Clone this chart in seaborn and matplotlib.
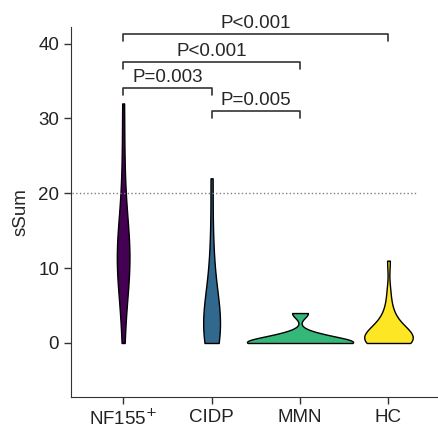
import pandas as pd
import seaborn as sns
import matplotlib.pyplot as plt

groups = ["NF155$^{+}$", "CIDP", "MMN", "HC"]
colors = ["#440154", "#31688e", "#35b779", "#fde725"]

nf155 = [0, 6, 8, 10, 11, 11, 12, 12, 13, 15, 18, 24, 32]
cidp = [0, 0, 1, 1, 2, 3, 3, 4, 5, 7, 9, 14, 22]
mmn = [0, 0, 0, 0, 0, 0, 0, 0, 0, 0, 0, 0, 0, 0, 0, 0, 0, 0,
       1, 1, 1, 1, 1, 1, 4, 4, 4]
hc = [0, 0, 0, 0, 0, 0, 0, 0, 0, 1, 1, 1, 1, 1, 1, 1, 1,
      2, 2, 2, 3, 3, 4, 5, 7, 11]

# comparisons: (group a, group b, bracket height, label)
pairs = [(0, 1, 34.0, "P=0.003"), (1, 2, 31.0, "P=0.005"),
         (0, 2, 37.5, "P<0.001"), (0, 3, 41.3, "P<0.001")]

rows = []
for g, vals in zip(groups, [nf155, cidp, mmn, hc]):
    for v in vals:
        rows.append({"group": g, "sSum": v})
df = pd.DataFrame(rows)

sns.set_style("ticks")
plt.rcParams["font.family"] = ["Liberation Sans", "DejaVu Sans"]
plt.rcParams["font.size"] = 13.5

fig, ax = plt.subplots(figsize=(4.38, 4.30), dpi=100)
fig.subplots_adjust(left=0.162, right=0.998, top=0.937, bottom=0.077)

sns.violinplot(data=df, x="group", y="sSum", hue="group", palette=colors,
               legend=False, cut=0, inner=None, density_norm="area",
               common_norm=True, width=1.2, linewidth=1, linecolor="black",
               saturation=1, ax=ax)

ax.axhline(20, xmin=0.003, xmax=0.943, color="gray", ls=":", lw=1)

for a, b, h, lab in pairs:
    ax.plot([a, a, b, b], [h - 0.9, h, h, h - 0.9], color="#333333", lw=1.2,
            clip_on=False)
    ax.text((a + b) / 2, h + 0.3, lab, ha="center", va="bottom",
            clip_on=False)

ax.set_xlim(-0.59, 3.55)
ax.set_ylim(-7.2, 42.2)
ax.set_yticks([0, 10, 20, 30, 40])
ax.set_xlabel("")
ax.set_ylabel("sSum", labelpad=6)
sns.despine(ax=ax)
for s in ["left", "bottom"]:
    ax.spines[s].set_color("#333333")
ax.tick_params(colors="#333333", labelcolor="#222222", length=5, width=1)

fig.savefig("out.png", dpi=100)
